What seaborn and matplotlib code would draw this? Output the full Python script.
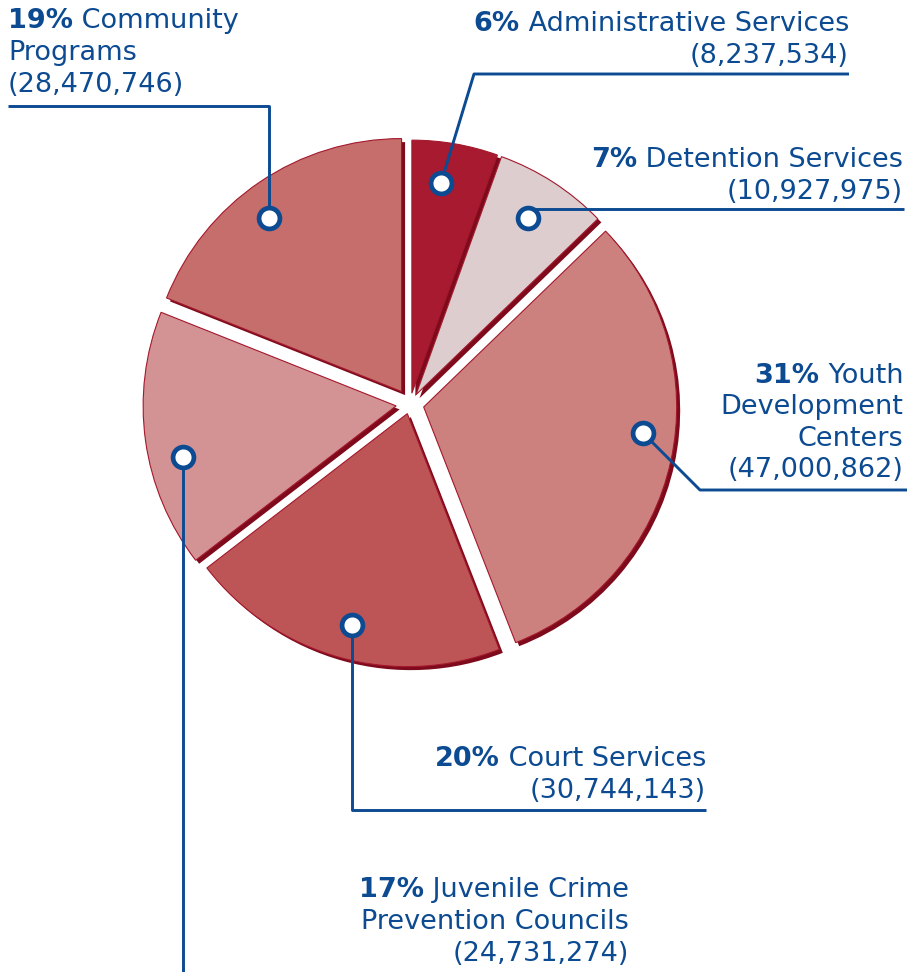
import matplotlib
matplotlib.use("Agg")
import matplotlib.pyplot as plt
import seaborn as sns

# Budget by program area (dollars), clockwise from 12 o'clock
programs = ["Administrative Services", "Detention Services", "Youth Development Centers",
            "Court Services", "Juvenile Crime Prevention Councils", "Community Programs"]
amounts = [8237534, 10927975, 47000862, 30744143, 24731274, 28470746]
pct_labels = ["6%", "7%", "31%", "20%", "17%", "19%"]
amount_labels = ["(8,237,534)", "(10,927,975)", "(47,000,862)",
                 "(30,744,143)", "(24,731,274)", "(28,470,746)"]
name_lines = [["Administrative Services"], ["Detention Services"],
              ["Youth", "Development", "Centers"], ["Court Services"],
              ["Juvenile Crime", "Prevention Councils"], ["Community", "Programs"]]

sns.set_theme(style="white")
plt.rcParams["font.family"] = ["DejaVu Sans"]

slice_colors = sns.color_palette(["#A71A2F", "#DDCDCE", "#CC817F",
                                  "#BD5456", "#D39293", "#C66E6C"])
SHADOW = "#7E0A1C"
EDGE = "#A3182C"
BLUE = "#0C4A91"

W, H = 907, 972
fig = plt.figure(figsize=(W / 100, H / 100), dpi=100)
ax = fig.add_axes([0, 0, 1, 1])

cx, cy, r = 410, 404, 253
# radial offset of each wedge, in pixels
explode_px = [11, 11, 14, 10, 14, 15]

# raised edge under each wedge
ax.pie(amounts, startangle=-90, counterclock=True, radius=r,
       center=(cx + 3.5, cy + 3.5), explode=explode_px, colors=[SHADOW] * 6,
       wedgeprops=dict(linewidth=0))
ax.pie(amounts, startangle=-90, counterclock=True, radius=r,
       center=(cx, cy), explode=explode_px, colors=slice_colors,
       wedgeprops=dict(edgecolor=EDGE, linewidth=0.8))

ax.set_aspect("auto")
ax.set_xlim(0, W)
ax.set_ylim(H, 0)
ax.axis("off")

# leader lines: (path, dot position)
leaders = [
    ([(441, 183), (474, 74), (849, 74)], (441, 183)),
    ([(528, 209), (904, 209)], (528, 218)),
    ([(643, 433), (700, 490), (907, 490)], (643, 433)),
    ([(352, 625), (352, 810), (706, 810)], (352, 625)),
    ([(183, 457), (183, 975)], (183, 457)),
    ([(269, 218), (269, 106), (8, 106)], (269, 218)),
]
for path, dot in leaders:
    xs, ys = zip(*path)
    ax.plot(xs, ys, color=BLUE, lw=2.1, solid_capstyle="butt", zorder=5)
    ax.plot([dot[0]], [dot[1]], marker="o", ms=15, mfc="white", mec=BLUE,
            mew=3.4, zorder=6)

FS = 19.5
renderer = fig.canvas.get_renderer()
inv = ax.transData.inverted()


def width_of(t):
    bb = t.get_window_extent(renderer=renderer)
    (x0, _), (x1, _) = inv.transform([(bb.x0, 0), (bb.x1, 0)])
    return x1 - x0


def label(x, baselines, pct, lines, amount, ha):
    texts = [" " + lines[0]] + lines[1:] + [amount]
    for i, (t, yb) in enumerate(zip(texts, baselines)):
        obj = ax.text(x, yb, t, ha=ha, va="baseline", fontsize=FS,
                      color=BLUE, zorder=7)
        if i == 0:
            w = width_of(obj)
            if ha == "right":
                ax.text(x - w, yb, pct, ha="right", va="baseline", fontsize=FS,
                        fontweight="bold", color=BLUE, zorder=7)
            else:
                obj.remove()
                b = ax.text(x, yb, pct, ha="left", va="baseline", fontsize=FS,
                            fontweight="bold", color=BLUE, zorder=7)
                bw = width_of(b)
                ax.text(x + bw, yb, " " + lines[0], ha="left", va="baseline",
                        fontsize=FS, color=BLUE, zorder=7)


label(849, [31, 63], pct_labels[0], name_lines[0], amount_labels[0], "right")
label(903, [167, 199], pct_labels[1], name_lines[1], amount_labels[1], "right")
label(903, [383, 414, 446, 477], pct_labels[2], name_lines[2], amount_labels[2], "right")
label(706, [766, 798], pct_labels[3], name_lines[3], amount_labels[3], "right")
label(629, [897, 929, 961], pct_labels[4], name_lines[4], amount_labels[4], "right")
label(8, [28, 60, 92], pct_labels[5], name_lines[5], amount_labels[5], "left")

fig.savefig("out.png", dpi=100, facecolor="white")
